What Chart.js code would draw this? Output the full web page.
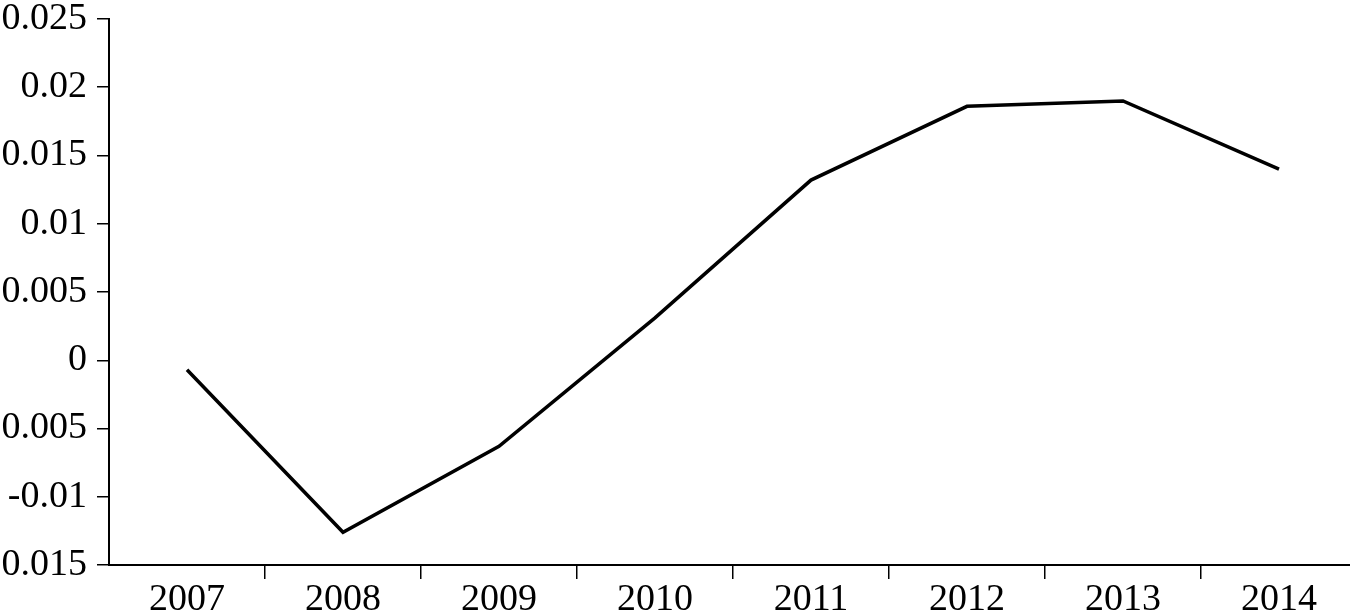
<!DOCTYPE html>
<html>
<head>
<meta charset="utf-8">
<script src="https://cdn.jsdelivr.net/npm/chart.js@4/dist/chart.umd.min.js"></script>
<style>
html, body { margin: 0; padding: 0; overflow: hidden; background: #fff; width: 1350px; height: 615px; }
#wrap { position: absolute; left: 0; top: 0; width: 1360px; height: 615px; }
canvas { display: block; }
</style>
</head>
<body>
<div id="wrap"><canvas id="c" width="1360" height="615" style="width:1360px;height:615px"></canvas></div>
<script>
const categories = ['2007', '2008', '2009', '2010', '2011', '2012', '2013', '2014'];
const seriesValues = [-0.0007, -0.0126, -0.0063, 0.0031, 0.0132, 0.0186, 0.019, 0.014];
const yTickValues = [-0.015, -0.01, -0.005, 0, 0.005, 0.01, 0.015, 0.02, 0.025];
const yTickLabels = ['-0.015', '-0.01', '-0.005', '0', '0.005', '0.01', '0.015', '0.02', '0.025'];

const font = { family: '"Liberation Serif", "DejaVu Serif", serif', size: 38, lineHeight: 1 };

new Chart(document.getElementById('c'), {
  type: 'line',
  data: {
    labels: categories,
    datasets: [{
      data: seriesValues,
      borderColor: '#000',
      borderWidth: 3.5,
      pointRadius: 0,
      tension: 0,
      fill: false,
      clip: false
    }]
  },
  options: {
    responsive: false,
    animation: false,
    devicePixelRatio: 1,
    layout: { padding: { top: 0, right: 3, bottom: 0, left: 0 } },
    plugins: { legend: { display: false }, tooltip: { enabled: false } },
    scales: {
      x: {
        type: 'category',
        offset: true,
        grid: {
          display: true, drawOnChartArea: false, offset: true,
          color: (ctx) => ctx.index === 0 ? 'rgba(0,0,0,0)' : '#000',
          tickColor: (ctx) => ctx.index === 0 ? 'rgba(0,0,0,0)' : '#000',
          tickLength: 14, lineWidth: 1.5
        },
        border: { display: true, color: '#000', width: 2 },
        ticks: { color: '#000', font: font, padding: 2, maxRotation: 0, autoSkip: false },
        afterFit: (s) => { s.height = 50; s.paddingLeft = 0; s.paddingRight = 0; }
      },
      y: {
        type: 'linear',
        min: yTickValues[0],
        max: yTickValues[yTickValues.length - 1],
        afterBuildTicks: (s) => { s.ticks = yTickValues.map(v => ({ value: v })); },
        grid: { display: true, drawOnChartArea: false, color: '#000', tickColor: '#000', tickLength: 12, lineWidth: 1.5 },
        border: { display: true, color: '#000', width: 2 },
        ticks: {
          color: '#000', font: font, padding: 10,
          callback: (v) => { const i = yTickValues.findIndex(t => Math.abs(t - v) < 1e-9); return i >= 0 ? yTickLabels[i] : ''; }
        },
        afterFit: (s) => { s.width = 109; s.paddingTop = 19; s.paddingBottom = 0; }
      }
    }
  }
});
</script>
</body>
</html>
